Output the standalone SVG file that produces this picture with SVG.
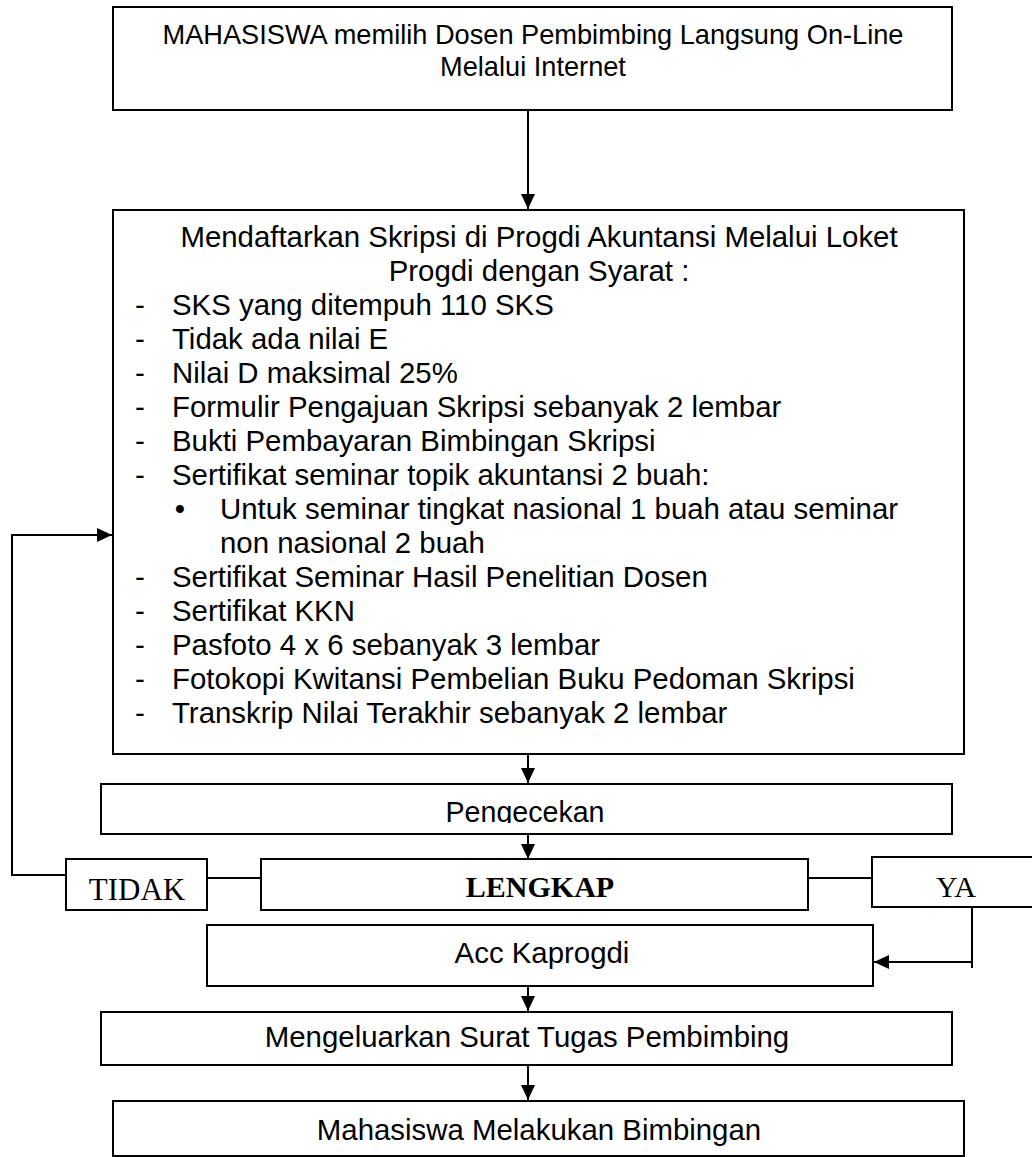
<svg xmlns="http://www.w3.org/2000/svg" width="1032" height="1157" viewBox="0 0 1032 1157">
<style>
.box{fill:#fff;stroke:#000;stroke-width:2}
.t{font-family:"Liberation Sans",Arial,sans-serif;font-size:29.4px;fill:#000}
.c{text-anchor:middle}
.tm{font-family:"Liberation Serif","Times New Roman",serif;fill:#000;text-anchor:middle}
.ln{fill:none;stroke:#000;stroke-width:2}
</style>
<defs>
<marker id="ah" markerUnits="userSpaceOnUse" markerWidth="16" markerHeight="16" viewBox="0 0 16 16" refX="15" refY="8" orient="auto">
<path d="M0,1 L15,8 L0,15 Z" fill="#000"/>
</marker>
<clipPath id="clipPeng"><rect x="101" y="784" width="851" height="39"/></clipPath>
</defs>
<rect width="1032" height="1157" fill="#fff"/>

<g id="connectors">
<line class="ln" x1="528" y1="110" x2="528" y2="209" marker-end="url(#ah)"/>
<line class="ln" x1="528" y1="754" x2="528" y2="783" marker-end="url(#ah)"/>
<line class="ln" x1="528" y1="834" x2="528" y2="859" marker-end="url(#ah)"/>
<line class="ln" x1="528" y1="986" x2="528" y2="1011" marker-end="url(#ah)"/>
<line class="ln" x1="528" y1="1065" x2="528" y2="1100" marker-end="url(#ah)"/>
<polyline class="ln" points="66,875 12,875 12,535 112,535" marker-end="url(#ah)"/>
<line class="ln" x1="207" y1="878" x2="261" y2="878"/>
<line class="ln" x1="808" y1="878" x2="872" y2="878"/>
<line class="ln" x1="972" y1="907" x2="972" y2="968"/>
<line class="ln" x1="972" y1="962" x2="874" y2="962" marker-end="url(#ah)"/>
</g>

<g id="node-mahasiswa-memilih">
<rect class="box" x="113" y="7" width="839" height="103"/>
<text class="t c" x="533" y="44" style="font-size:27.2px">MAHASISWA memilih Dosen Pembimbing Langsung On-Line</text>
<text class="t c" x="533" y="76" style="font-size:27.2px">Melalui Internet</text>
</g>

<g id="node-mendaftarkan">
<rect class="box" x="113" y="210" width="851" height="544"/>
<text class="t c" x="539" y="247">Mendaftarkan Skripsi di Progdi Akuntansi Melalui Loket</text>
<text class="t c" x="539" y="281">Progdi dengan Syarat :</text>
<g class="t">
<text x="135" y="315">-</text><text x="172" y="315">SKS yang ditempuh 110 SKS</text>
<text x="135" y="349">-</text><text x="172" y="349">Tidak ada nilai E</text>
<text x="135" y="383">-</text><text x="172" y="383">Nilai D maksimal 25%</text>
<text x="135" y="417">-</text><text x="172" y="417">Formulir Pengajuan Skripsi sebanyak 2 lembar</text>
<text x="135" y="451">-</text><text x="172" y="451">Bukti Pembayaran Bimbingan Skripsi</text>
<text x="135" y="485">-</text><text x="172" y="485">Sertifikat seminar topik akuntansi 2 buah:</text>
<text x="180" y="519" text-anchor="middle">•</text><text x="220" y="519">Untuk seminar tingkat nasional 1 buah atau seminar</text>
<text x="220" y="553">non nasional 2 buah</text>
<text x="135" y="587">-</text><text x="172" y="587">Sertifikat Seminar Hasil Penelitian Dosen</text>
<text x="135" y="621">-</text><text x="172" y="621">Sertifikat KKN</text>
<text x="135" y="655">-</text><text x="172" y="655">Pasfoto 4 x 6 sebanyak 3 lembar</text>
<text x="135" y="689">-</text><text x="172" y="689">Fotokopi Kwitansi Pembelian Buku Pedoman Skripsi</text>
<text x="135" y="723">-</text><text x="172" y="723">Transkrip Nilai Terakhir sebanyak 2 lembar</text>
</g>
</g>

<g id="node-pengecekan">
<rect class="box" x="101" y="784" width="851" height="50"/>
<text class="t c" x="525" y="822" clip-path="url(#clipPeng)" style="font-size:28.6px">Pengecekan</text>
</g>

<g id="node-tidak">
<rect class="box" x="66" y="859" width="141" height="51"/>
<text class="tm" x="137" y="900" font-size="31">TIDAK</text>
</g>

<g id="node-lengkap">
<rect class="box" x="261" y="859" width="547" height="51"/>
<text class="tm" x="540" y="897" font-size="30" font-weight="bold">LENGKAP</text>
</g>

<g id="node-ya">
<rect class="box" x="872" y="857" width="170" height="50"/>
<text class="tm" x="956" y="897" font-size="30">YA</text>
</g>

<g id="node-acc">
<rect class="box" x="207" y="925" width="666" height="61"/>
<text class="t c" x="542" y="963">Acc Kaprogdi</text>
</g>

<g id="node-surat-tugas">
<rect class="box" x="101" y="1012" width="851" height="53"/>
<text class="t c" x="527" y="1047">Mengeluarkan Surat Tugas Pembimbing</text>
</g>

<g id="node-bimbingan">
<rect class="box" x="113" y="1101" width="851" height="55"/>
<text class="t c" x="539" y="1140">Mahasiswa Melakukan Bimbingan</text>
</g>
</svg>
